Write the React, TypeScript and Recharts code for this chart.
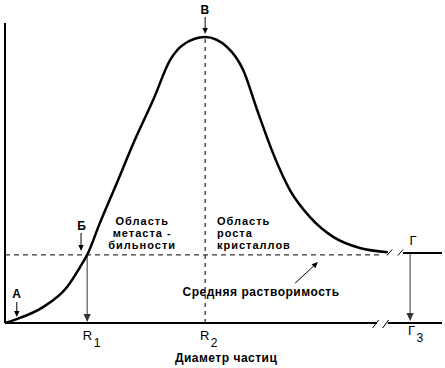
import {
  ComposedChart,
  Line,
  ReferenceDot,
  ReferenceLine,
  XAxis,
  YAxis,
} from "recharts"

// Crystallisation curve: concentration vs particle diameter, with
// mean solubility level and the metastable / growth regions.

const diameter = [
  0, 2.7, 8.7, 14.2, 17.2, 18.8, 21.7, 25.6, 29.7, 33.9, 37.8, 40.7, 45.8,
  50.8, 54.5, 57.7, 61.3, 65.2, 69.8, 75.1, 81.2, 87.6,
]
const concentration = [
  0, 1.3, 5.3, 12, 18.7, 22.7, 33.3, 46.7, 61, 74.3, 87.7, 92.7, 95.3, 92,
  84.3, 71, 56.7, 44.3, 35.3, 28.7, 25, 23.6,
]

const R1 = 18.8
const R2 = 45.8
const G3 = 92.7
const meanSolubility = 22.7
const plateau = 23.3
const peak = 95.3

const rows = diameter.map((d, i) => ({ d, c: concentration[i] }))

const FONT = "'Liberation Sans', Arial, sans-serif"

function Arrow(props: any) {
  const { x1, y1, x2, y2, color = "#000", width = 1, head = 6 } = props
  const ang = Math.atan2(y2 - y1, x2 - x1)
  const hw = head * 0.45
  const bx = x2 - Math.cos(ang) * head
  const by = y2 - Math.sin(ang) * head
  const px = -Math.sin(ang) * hw
  const py = Math.cos(ang) * hw
  return (
    <g>
      <line x1={x1} y1={y1} x2={bx} y2={by} stroke={color} strokeWidth={width} />
      <polygon
        points={`${x2},${y2} ${bx + px},${by + py} ${bx - px},${by - py}`}
        fill={color}
      />
    </g>
  )
}

function caption(
  text: string,
  anchor = "middle",
  sub?: string,
  size = 12,
  bold = true,
  spacing = 0.5,
) {
  return (p: any) => (
    <text
      x={p.cx}
      y={p.cy}
      textAnchor={anchor}
      fontFamily={FONT}
      fontWeight={bold ? 700 : 400}
      fontSize={size}
      letterSpacing={spacing}
      fill="#000"
    >
      {text}
      {sub ? (
        <tspan dy={7} dx={1} fontSize={size - 1}>
          {sub}
        </tspan>
      ) : null}
    </text>
  )
}

function Plain(p: any) {
  return <line x1={p.x1} y1={p.y1} x2={p.x2} y2={p.y2} stroke="#000" strokeWidth={p.sw ?? 2} />
}

export default function App() {
  return (
    <div style={{ position: "absolute", left: 0, top: 0, width: 445, height: 368, background: "#fff" }}>
      <ComposedChart
        width={445}
        height={368}
        data={rows}
        margin={{ top: 8, right: 3, bottom: 0, left: 5 }}
      >
        <XAxis type="number" dataKey="d" domain={[0, 100]} hide />
        <YAxis type="number" domain={[-15, 105]} hide />

        {/* axes with break */}
        <ReferenceLine segment={[{ x: 0, y: 0 }, { x: 0, y: 100 }]} shape={(p: any) => <Plain {...p} />} />
        <ReferenceLine segment={[{ x: 0, y: 0 }, { x: 85.1, y: 0 }]} shape={(p: any) => <Plain {...p} />} />
        <ReferenceLine segment={[{ x: 87.6, y: 0 }, { x: 100, y: 0 }]} shape={(p: any) => <Plain {...p} />} />
        <ReferenceLine segment={[{ x: 84.1, y: -1.7 }, { x: 85.5, y: 1 }]} shape={(p: any) => <Plain {...p} sw={1} />} />
        <ReferenceLine segment={[{ x: 86.4, y: -1.7 }, { x: 87.8, y: 1 }]} shape={(p: any) => <Plain {...p} sw={1} />} />

        {/* mean solubility and plateau */}
        <ReferenceLine
          segment={[{ x: 0, y: meanSolubility }, { x: 86.5, y: meanSolubility }]}
          stroke="#000"
          strokeWidth={1}
          strokeDasharray="5 4"
        />
        <ReferenceLine
          segment={[{ x: R2, y: 0 }, { x: R2, y: peak }]}
          stroke="#000"
          strokeWidth={1}
          strokeDasharray="4 4"
        />
        <ReferenceLine segment={[{ x: 87.4, y: 22.5 }, { x: 88.6, y: 24.5 }]} shape={(p: any) => <Plain {...p} sw={1} />} />
        <ReferenceLine segment={[{ x: 89.9, y: 22.5 }, { x: 91.1, y: 24.5 }]} shape={(p: any) => <Plain {...p} sw={1} />} />
        <ReferenceLine segment={[{ x: 91.1, y: plateau }, { x: 100, y: plateau }]} shape={(p: any) => <Plain {...p} />} />

        {/* arrows */}
        <ReferenceLine segment={[{ x: R1, y: meanSolubility }, { x: R1, y: 0.3 }]} shape={(p: any) => <Arrow {...p} color="#333" head={8} />} />
        <ReferenceLine segment={[{ x: G3, y: plateau }, { x: G3, y: 0.7 }]} shape={(p: any) => <Arrow {...p} color="#333" head={8} />} />
        <ReferenceLine segment={[{ x: 2.7, y: 7 }, { x: 2.7, y: 2 }]} shape={(p: any) => <Arrow {...p} />} />
        <ReferenceLine segment={[{ x: 17.4, y: 30 }, { x: 17.4, y: 24 }]} shape={(p: any) => <Arrow {...p} />} />
        <ReferenceLine segment={[{ x: R2, y: 102 }, { x: R2, y: 96.3 }]} shape={(p: any) => <Arrow {...p} />} />
        <ReferenceLine segment={[{ x: 66.4, y: 13.3 }, { x: 71.6, y: 20.3 }]} shape={(p: any) => <Arrow {...p} head={6} />} />

        <Line
          type="monotone"
          dataKey="c"
          stroke="#000"
          strokeWidth={2.5}
          dot={false}
          isAnimationActive={false}
        />

        {/* captions */}
        <ReferenceDot x={2.7} y={8.3} r={0} shape={caption("А")} />
        <ReferenceDot x={17.6} y={31} r={0} shape={caption("Б")} />
        <ReferenceDot x={R2} y={103} r={0} shape={caption("В")} />
        <ReferenceDot x={93.4} y={26} r={0} shape={caption("Г", "middle", undefined, 13, false)} />
        <ReferenceDot x={31.4} y={32.7} r={0} shape={caption("Область", "middle", undefined, 11, true, 1)} />
        <ReferenceDot x={31.4} y={28.7} r={0} shape={caption("метаста -", "middle", undefined, 11, true, 1)} />
        <ReferenceDot x={31.4} y={24.8} r={0} shape={caption("бильности", "middle", undefined, 11, true, 1)} />
        <ReferenceDot x={48.5} y={32.7} r={0} shape={caption("Область", "start", undefined, 11, true, 1)} />
        <ReferenceDot x={48.5} y={28.7} r={0} shape={caption("роста", "start", undefined, 11, true, 1)} />
        <ReferenceDot x={48.5} y={24.8} r={0} shape={caption("кристаллов", "start", undefined, 11, true, 1)} />
        <ReferenceDot x={58.6} y={9} r={0} shape={caption("Средняя растворимость")} />
        <ReferenceDot x={17.8} y={-5.7} r={0} shape={caption("R", "start", "1", 13, false)} />
        <ReferenceDot x={44.6} y={-5.7} r={0} shape={caption("R", "start", "2", 13, false)} />
        <ReferenceDot x={92.2} y={-4} r={0} shape={caption("Г", "start", "3", 13, false)} />
        <ReferenceDot x={50.6} y={-13} r={0} shape={caption("Диаметр частиц")} />
      </ComposedChart>
    </div>
  )
}
